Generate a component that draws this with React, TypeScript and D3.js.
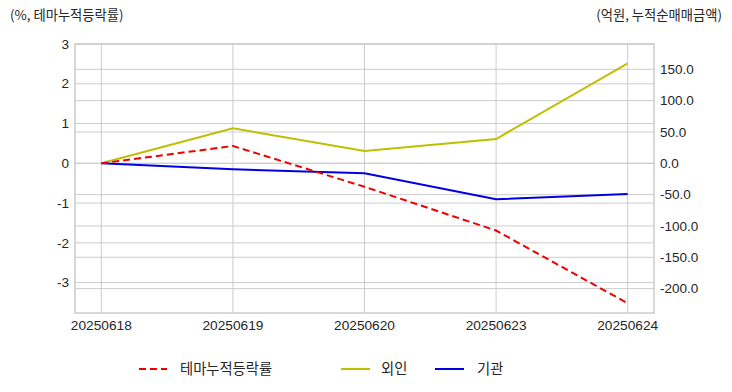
import React from "react";
import * as d3 from "d3";

const dates = ["20250618", "20250619", "20250620", "20250623", "20250624"];
const themeRate = [0, 0.435, -0.59, -1.69, -3.52];
const foreign = [0, 55.8, 19.6, 38.8, 159.6];
const institution = [0, -9.6, -16.0, -57.4, -49.0];
const leftTicks = [3, 2, 1, 0, -1, -2, -3];
const rightTicks = [150, 100, 50, 0, -50, -100, -150, -200];

const W = 732;
const H = 392;
const L = 75, R = 654, T = 44, B = 313;

export default function App() {
  const x = d3.scalePoint<string>().domain(dates).range([L, R]).padding(0.2);
  const yL = d3.scaleLinear().domain([-3.764, 3]).range([B, T]);
  const yR = d3.scaleLinear().domain([-238.9, 190.4]).range([B, T]);

  const lineL = d3.line<number>().x((_, i) => x(dates[i])!).y((d) => yL(d));
  const lineR = d3.line<number>().x((_, i) => x(dates[i])!).y((d) => yR(d));

  const font = "'Liberation Sans', Arial, 'Noto Sans CJK KR', sans-serif";
  const kfont = "'Noto Sans CJK KR', 'Liberation Sans', sans-serif";
  const grid = "#cccccc";
  const txt = "#262626";

  return (
    <svg width={W} height={H} style={{ position: "absolute", left: 0, top: 0, background: "#fff" }}>
      <rect x={0} y={0} width={W} height={H} fill="#fff" />
      {/* grid */}
      {leftTicks.map((t) => (
        <line key={"gl" + t} x1={L} x2={R} y1={yL(t)} y2={yL(t)} stroke={grid} strokeWidth={1} />
      ))}
      {rightTicks.map((t) => (
        <line key={"gr" + t} x1={L} x2={R} y1={yR(t)} y2={yR(t)} stroke={grid} strokeWidth={1} />
      ))}
      {dates.map((d) => (
        <line key={"gx" + d} x1={x(d)} x2={x(d)} y1={T} y2={B} stroke={grid} strokeWidth={1} />
      ))}
      <rect x={L} y={T} width={R - L} height={B - T} fill="none" stroke={grid} strokeWidth={1.5} />

      {/* lines */}
      <path d={lineR(foreign)!} fill="none" stroke="#bfbf00" strokeWidth={2} />
      <path d={lineR(institution)!} fill="none" stroke="#0000e0" strokeWidth={2} />
      <path d={lineL(themeRate)!} fill="none" stroke="#ee0000" strokeWidth={2} strokeDasharray="7,4" />

      {/* ticks */}
      {leftTicks.map((t) => (
        <text key={"tl" + t} x={69} y={yL(t)} dy="0.35em" textAnchor="end" fontFamily={font} fontSize={13.5} fill={txt}>
          {t}
        </text>
      ))}
      {rightTicks.map((t) => (
        <text key={"tr" + t} x={660} y={yR(t)} dy="0.35em" textAnchor="start" fontFamily={font} fontSize={13.5} fill={txt}>
          {t.toFixed(1)}
        </text>
      ))}
      {dates.map((d) => (
        <text key={"tx" + d} x={x(d)} y={330} textAnchor="middle" fontFamily={font} fontSize={13.7} fill={txt}>
          {d}
        </text>
      ))}

      {/* axis titles */}
      <text x={10} y={20} fontFamily={kfont} fontSize={13.3} fill={txt}>(%, 테마누적등락률)</text>
      <text x={722} y={20} textAnchor="end" fontFamily={kfont} fontSize={13.3} fill={txt}>(억원, 누적순매매금액)</text>

      {/* legend */}
      <line x1={139} x2={167} y1={369} y2={369} stroke="#ee0000" strokeWidth={2} strokeDasharray="7,4" />
      <text x={180} y={369} dy="0.35em" fontFamily={kfont} fontSize={14.3} fill={txt}>테마누적등락률</text>
      <line x1={341} x2={370} y1={369} y2={369} stroke="#bfbf00" strokeWidth={2} />
      <text x={381} y={369} dy="0.35em" fontFamily={kfont} fontSize={14.3} fill={txt}>외인</text>
      <line x1={435} x2={464} y1={369} y2={369} stroke="#0000e0" strokeWidth={2} />
      <text x={477} y={369} dy="0.35em" fontFamily={kfont} fontSize={14.3} fill={txt}>기관</text>
    </svg>
  );
}
